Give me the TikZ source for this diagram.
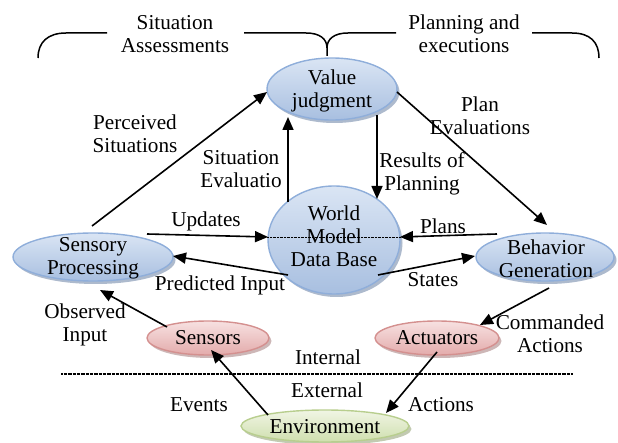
\documentclass[tikz,border=0pt]{standalone}
\usepackage{fontspec}
\setmainfont{Liberation Serif}
\usetikzlibrary{shapes.geometric,arrows.meta,shadows,calc}
\definecolor{bluedraw}{HTML}{8FAEDA}
\definecolor{bluetop}{HTML}{DAE5F4}
\definecolor{bluebot}{HTML}{A8BFE0}
\definecolor{blueshadow}{HTML}{8A9CB8}
\definecolor{pinkdraw}{HTML}{D4908F}
\definecolor{pinktop}{HTML}{F7E1E1}
\definecolor{pinkbot}{HTML}{E3ABAB}
\definecolor{pinkshadow}{HTML}{B89898}
\definecolor{greendraw}{HTML}{B8CE8E}
\definecolor{greentop}{HTML}{F0F5E4}
\definecolor{greenbot}{HTML}{CFDFAE}
\definecolor{greenshadow}{HTML}{A8B490}
\begin{document}
\begin{tikzpicture}[x=1pt,y=-1pt,
  txt/.style={font=\fontsize{21.2}{23}\selectfont, align=center, inner sep=0pt},
  ell/.style={ellipse, inner sep=0pt, line width=1.4pt},
  blueell/.style={ell, draw=bluedraw, top color=bluetop, bottom color=bluebot,
    drop shadow={shadow xshift=2.5pt, shadow yshift=-3pt, fill=blueshadow, opacity=0.7}},
  pinkell/.style={ell, draw=pinkdraw, top color=pinktop, bottom color=pinkbot,
    drop shadow={shadow xshift=2.5pt, shadow yshift=-3pt, fill=pinkshadow, opacity=0.7}},
  greenell/.style={ell, draw=greendraw, top color=greentop, bottom color=greenbot,
    drop shadow={shadow xshift=2.5pt, shadow yshift=-3pt, fill=greenshadow, opacity=0.7}},
  arr/.style={line width=1.6pt, -{Triangle[length=13pt,width=11pt]}},
  brk/.style={line width=1.5pt},
  sepline/.style={line width=1.2pt, dash pattern=on 0.8pt off 0.5pt},
  dotline/.style={line width=1pt, dash pattern=on 0.8pt off 0.6pt}
]
\useasboundingbox (0,0) rectangle (618,443);

% ellipses
\node[blueell, minimum width=130pt, minimum height=62pt] (vj) at (332,89) {};
\node[blueell, minimum width=132pt, minimum height=108pt] (wm) at (334,240) {};
\node[blueell, minimum width=160pt, minimum height=48pt] (sp) at (93,257) {};
\node[blueell, minimum width=138pt, minimum height=48pt] (bg) at (545,257) {};
\node[pinkell, minimum width=122pt, minimum height=34pt] (se) at (208,338) {};
\node[pinkell, minimum width=124pt, minimum height=34pt] (ac) at (437,338) {};
\node[greenell, minimum width=168pt, minimum height=32pt] (en) at (325,426) {};

% texts in ellipses
\node[txt] (vjt) at (332,91) {Value\\judgment};
\node[txt] (wmt) at (334,236) {World\\Model\\Data Base};
\node[txt] (spt) at (93,258) {Sensory\\Processing};
\node[txt] (bgt) at (546,259) {Behavior\\Generation};
\node[txt] (set) at (208,338) {Sensors};
\node[txt] (act) at (437,338) {Actuators};
\node[txt] (ent) at (325,427) {Environment};

% top bracket
\draw[brk] (38,58) .. controls (38,42) and (48,33) .. (66,33) -- (107,33);
\draw[brk] (244,33) -- (306,33) .. controls (320,33) and (327,39) .. (327,48) -- (327,56);
\draw[brk] (327,48) .. controls (327,39) and (334,33) .. (348,33) -- (396,33);
\draw[brk] (532,33) -- (572,33) .. controls (590,33) and (599,42) .. (599,58);

% labels
\node[txt] (l1) at (175,34) {Situation\\Assessments};
\node[txt] (l2) at (464,34) {Planning and\\executions};
\node[txt] (l3) at (135,134) {Perceived\\Situations};
\node[txt] (l4) at (480,116) {Plan\\Evaluations};
\node[txt] (l5) at (241,169) {Situation\\Evaluatio};
\node[txt] (l6) at (422,174) {Results of\\Planning};
\node[txt] (l7) at (206,221) {Updates};
\node[txt] (l8) at (443,226) {Plans};
\node[txt] (l9) at (220,285) {Predicted Input};
\node[txt] (l10) at (433,280) {States};
\node[txt] (l11) at (85,325) {Observed\\Input};
\node[txt] (l12) at (550,334) {Commanded\\Actions};
\node[txt] (l13) at (328,357) {Internal};
\node[txt] (l14) at (327,390) {External};
\node[txt] (l15) at (199,405) {Events};
\node[txt] (l16) at (441,405) {Actions};

% separator
\coordinate (sepL) at (61,374);
\coordinate (sepR) at (573,374);
\draw[sepline] (sepL) -- (sepR);

% dotted line through world model
\draw[dotline] ($(wm)+(-67,-2)$) -- ($(wm)+(67,-2)$);

% connectors
\draw[arr] ($(sp)+(-1,-31)$) -- ($(vj)+(-65,3)$);
\draw[arr] ($(wm)+(-46,-38)$) -- ($(vj)+(-44,28)$);
\draw[arr] ($(vj)+(45,26)$) -- ($(wm)+(43,-41)$);
\draw[arr] ($(vj)+(65,3)$) -- ($(bg)+(2,-32)$);
\draw[arr] ($(sp)+(54,-23)$) -- ($(wm)+(-66,-3)$);
\draw[arr] ($(bg)+(-48,-23)$) -- ($(wm)+(66,-3)$);
\draw[arr] ($(wm)+(-46,35)$) -- ($(sp)+(80,-1)$);
\draw[arr] ($(wm)+(44,35)$) -- ($(bg)+(-70,-1)$);
\draw[arr] ($(bg)+(4,31)$) -- ($(ac)+(43,-13)$);
\draw[arr] ($(se)+(-41,-11)$) -- ($(sp)+(7,33)$);
\draw[arr] ($(en)+(-57,-11)$) -- ($(se)+(3,12)$);
\draw[arr] ($(ac)+(0,14)$) -- ($(en)+(61,-13)$);
\end{tikzpicture}
\end{document}
